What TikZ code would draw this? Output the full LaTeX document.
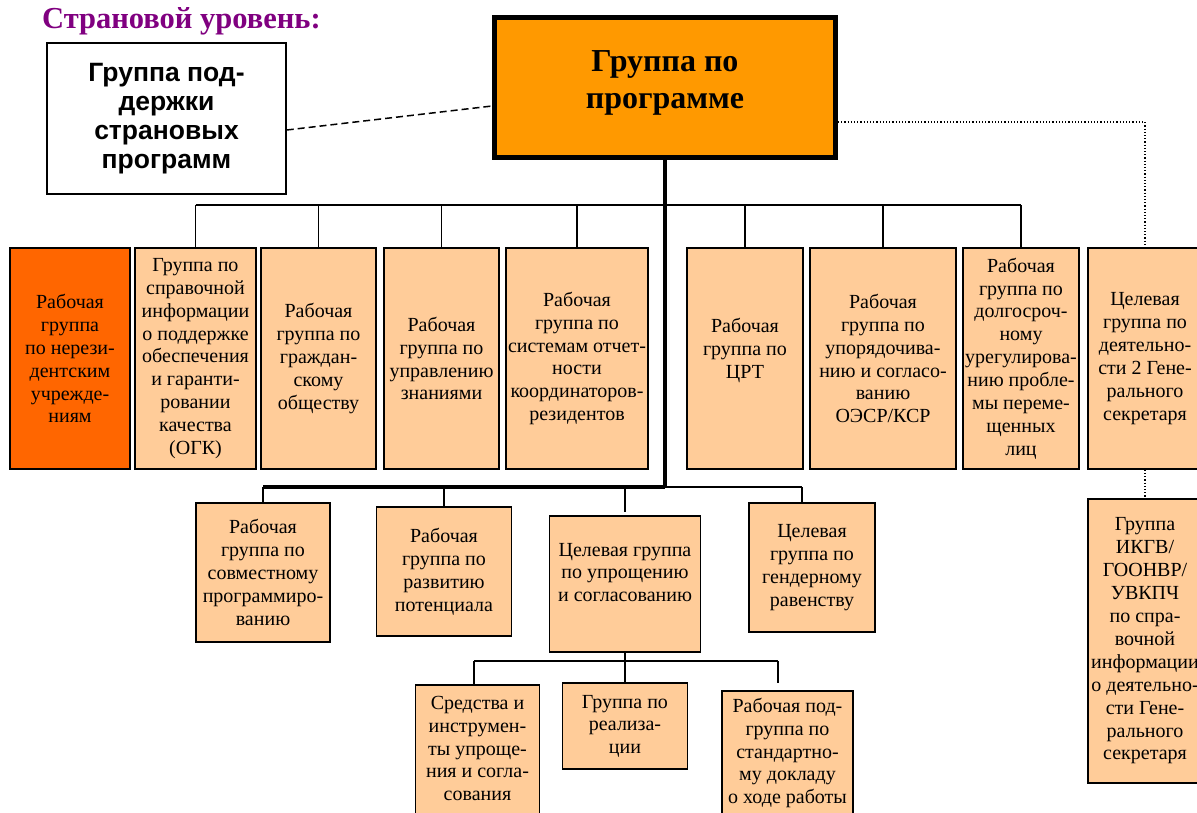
\documentclass[tikz,border=0pt]{standalone}
\usepackage{fontspec}
\setmainfont{Liberation Serif}
\newfontfamily\arialfont{Liberation Sans}
\usepackage{tikz}
\usetikzlibrary{positioning,calc}

\definecolor{peach}{HTML}{FFCC99}
\definecolor{darkorange}{HTML}{FF6600}
\definecolor{mainorange}{HTML}{FF9900}
\definecolor{titlepurple}{HTML}{800080}
\newcommand{\boxfont}{\fontsize{20}{22.9}\selectfont}

\begin{document}
\begin{tikzpicture}[x=1pt,y=-1pt]
\tikzset{
	peach box/.style = {rectangle, draw, line width=1.5pt, fill=peach, align=center, inner sep=1pt, font=\boxfont},
	top text/.style = {anchor=north, align=center, inner sep=0pt, font=\boxfont},
	thin link/.style = {line width=1.8pt},
	thick link/.style = {line width=3.5pt},
}
\useasboundingbox (0,0) rectangle (1197,812);

\node[anchor=base west, inner sep=0pt, text=titlepurple, font=\fontsize{30.5}{34}\selectfont\bfseries] (title) at (42,28) {Страновой уровень:};
\node[draw, line width=5pt, fill=mainorange, minimum width=341pt, minimum height=140pt, align=center, text depth=16pt, font=\fontsize{32}{37}\selectfont\bfseries] (prog) at (665,87.5) {Группа по\\программе};
\node[draw, line width=1.5pt, fill=white, minimum width=239pt, minimum height=151pt, align=center, font=\arialfont\bfseries\fontsize{26.5}{29}\selectfont] (sup) at (166.5,118.5) {Группа под-\\держки\\страновых\\программ};

% first row
\node[peach box, fill=darkorange, minimum width=120pt, minimum height=221pt] (A) at (70,358.5) {Рабочая\\группа\\по нерези-\\дентским\\учрежде-\\ниям};
\node[peach box, minimum width=121pt, minimum height=221pt] (B) at (195.5,358.5) {Группа по\\справочной\\информации\\о поддержке\\обеспечения\\и гаранти-\\ровании\\качества\\(ОГК)};
\node[peach box, minimum width=115pt, minimum height=221pt] (C) at (318.5,358.5) {Рабочая\\группа по\\граждан-\\скому\\обществу};
\node[peach box, minimum width=115pt, minimum height=221pt] (D) at (441.5,358.5) {Рабочая\\группа по\\управлению\\знаниями};
\node[peach box, minimum width=142pt, minimum height=221pt] (E) at (577,358.5) {Рабочая\\группа по\\системам отчет-\\ности\\координаторов-\\резидентов};
\node[peach box, minimum width=116pt, minimum height=221pt, text depth=20pt] (F) at (745,358.5) {Рабочая\\группа по\\ЦРТ};
\node[peach box, minimum width=146pt, minimum height=221pt] (G) at (883,358.5) {Рабочая\\группа по\\упорядочива-\\нию и согласо-\\ванию\\ОЭСР/КСР};
\node[peach box, minimum width=116pt, minimum height=221pt] (H) at (1021,358.5) {Рабочая\\группа по\\долгосроч-\\ному\\урегулирова-\\нию пробле-\\мы переме-\\щенных\\лиц};
\node[peach box, minimum width=114pt, minimum height=221pt] (I) at (1145,358.5) {Целевая\\группа по\\деятельно-\\сти 2 Гене-\\рального\\секретаря};
\node[peach box, minimum width=114pt, minimum height=284pt] (J) at (1145,641) {Группа\\ИКГВ/\\ГООНВР/\\УВКПЧ\\по спра-\\вочной\\информации\\о деятельно-\\сти Гене-\\рального\\секретаря};

% second row
\node[peach box, minimum width=134pt, minimum height=139pt] (K) at (263,572.5) {Рабочая\\группа по\\совместному\\программиро-\\ванию};
\node[peach box, minimum width=135pt, minimum height=129pt] (L) at (444,571.5) {Рабочая\\группа по\\развитию\\потенциала};
\node[peach box, minimum width=151pt, minimum height=136pt, label={[top text, yshift=-27.5pt]north:{Целевая группа\\по упрощению\\и согласованию}}] (M) at (625,584) {};
\node[peach box, minimum width=126pt, minimum height=129pt] (N) at (812,567.5) {Целевая\\группа по\\гендерному\\равенству};

% third row
\node[peach box, minimum width=124pt, minimum height=140pt, label={[top text, yshift=-11.5pt]north:{Средства и\\инструмен-\\ты упроще-\\ния и согла-\\сования}}] (O) at (477.5,755) {};
\node[peach box, minimum width=125pt, minimum height=86pt, label={[top text, yshift=-12.5pt]north:{Группа по\\реализа-\\ции}}] (P) at (625,726) {};
\node[peach box, minimum width=131pt, minimum height=139pt, label={[top text, yshift=-7.5pt]north:{Рабочая под-\\группа по\\стандартно-\\му докладу\\о ходе работы}}] (Q) at (787.5,760.5) {};

% connectors
\coordinate (bus1) at (665,205);
\coordinate (bus2) at (665,487);
\coordinate (bus2e) at (802,487);
\coordinate (bus3w) at (474,661);
\coordinate (bus3e) at (778,661);

\draw[thin link] (B.north |- bus1) -- (H.north |- bus1);
\foreach \n in {B,C,D,E,F,G,H} \draw[thin link] (\n.north |- bus1) -- (\n.north);
\draw[thick link] (prog.south) -- (bus2);
\draw[thick link] (bus2) -- (K.north |- bus2);
\draw[thin link] (bus2) -- (bus2e);
\foreach \n in {K,L} \draw[thin link] (\n.north |- bus2) -- (\n.north);
\draw[thin link, shorten >=3pt] (M.north |- bus2) -- (M.north);
\draw[thin link] (bus2e) -- (bus2e |- N.north);
\draw[thin link] (M.south) -- (P.north);
\draw[thin link] (bus3w) -- (bus3e);
\draw[thin link] (bus3w) -- (bus3w |- O.north);
\draw[thin link, shorten >=7pt] (bus3e) -- (bus3e |- Q.north);

\draw[dotted, line width=1.2pt] (prog.east |- 0,122) -| (I.north);
\draw[dotted, line width=1.2pt] (I.south) -- (J.north);
\draw[dash pattern=on 7pt off 4pt, line width=1.5pt] (sup.east |- 0,130) -- (prog.west |- 0,106);

\end{tikzpicture}
\end{document}
